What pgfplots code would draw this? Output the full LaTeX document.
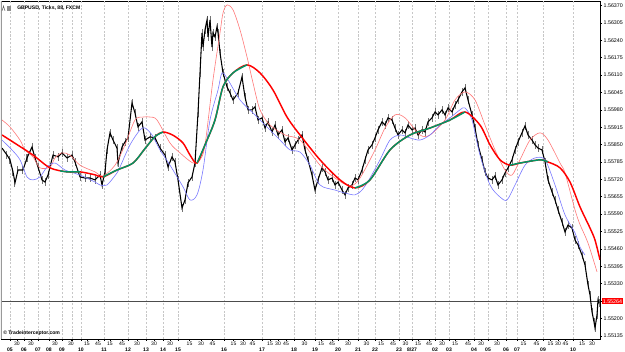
\documentclass[border=0pt]{standalone}
\usepackage{fontspec}
\setmainfont{Liberation Sans}
\usepackage{pgfplots}
\pgfplotsset{compat=1.18}
\definecolor{magreen}{RGB}{0,150,100}
\definecolor{thinred}{RGB}{255,120,120}
\definecolor{thinblue}{RGB}{120,120,255}
\begin{document}
\begin{tikzpicture}
\begin{axis}[
 name=ax, at={(0,0)}, anchor=south west,
 scale only axis, width=449.25pt, height=253.5pt,
 xmin=1, xmax=600, ymin=1.55123, ymax=1.56387,
 axis line style={black, line width=0.5pt},
 font=\fontsize{4}{4.5}\selectfont,
 /pgf/number format/assume math mode=true,
 ytick={1.55135,1.55200,1.55265,1.55330,1.55395,1.55460,1.55525,1.55590,1.55655,1.55720,1.55785,1.55850,1.55915,1.55980,1.56045,1.56110,1.56175,1.56240,1.56305,1.56370},
 yticklabels={1.55135,1.55200,,1.55330,1.55395,1.55460,1.55525,1.55590,1.55655,1.55720,1.55785,1.55850,1.55915,1.55980,1.56045,1.56110,1.56175,1.56240,1.56305,1.56370},
 ytick pos=right, yticklabel pos=right, tick align=outside,
 major tick length=1.5pt, tick style={black, line width=0.4pt},
 yticklabel style={font=\fontsize{4}{4.5}\selectfont, inner sep=1pt},
 xtick pos=bottom,
 xtick={17,31,55,71,87,98,110,122,137,154,170,189.5,201,212.5,233.5,243,252.5,270,278,286,304.5,321,332,348,366.5,381,393,405.5,418,429,442,455,468,481,497,523.5,536.5,550.5,558,565.5,582,592},
 xticklabels={30,30,30,30,15,45,15,45,30,30,30,15,30,45,15,30,45,15,30,45,30,15,45,30,30,15,45,30,15,45,30,15,45,30,30,15,45,15,30,45,15,30},
 xticklabel style={font=\fontsize{3.8}{4}\selectfont, inner sep=0.8pt},
 extra x ticks={10,24,38,49,62,72,81,104,128,146,163,178,224,262,294,315,338,358,375,399,412,435,449,474,488,506,517,543,573},
 extra x tick labels={05,06,07,08,09,,10,11,12,13,14,15,16,17,18,19,20,21,22,23,8/27,02,03,04,05,06,07,09,10},
 extra x tick style={grid=major, major grid style={dash pattern=on 1.6pt off 1.2pt, black!22, line width=0.45pt}, xticklabel style={yshift=-4.2pt, font=\fontsize{3.8}{4}\selectfont\bfseries}},
 extra y ticks={1.55264}, extra y tick labels={1.55264},
 extra y tick style={grid=major, major grid style={solid, black!70, line width=0.5pt}, yticklabel style={fill=red, text=white, inner sep=0.7pt, xshift=-0.3pt}},
 clip=true,
]
% price bars (high-low ranges) and closes
\addplot[draw=none, mark=none, error bars/.cd, y dir=both, y fixed=0.00015, error mark=none, error bar style={draw=black!55, line width=0.75pt}] coordinates {
(2,1.55837) (7,1.55811) (10,1.55793) (13,1.55748) (15,1.55707) (18,1.55755) (23,1.55755) (27,1.55800) (32,1.55841) (35,1.55800) (38,1.55766) (42,1.55718) (45,1.55710) (48,1.55736) (53,1.55811) (58,1.55804) (62,1.55819) (67,1.55800) (72,1.55811) (75,1.55785) (80,1.55729) (85,1.55725) (90,1.55725) (95,1.55718) (100,1.55736) (102,1.55699) (105,1.55748) (107,1.55830) (110,1.55894) (113,1.55867) (117,1.55837) (118,1.55781) (122,1.55841) (125,1.55860) (128,1.55875) (132,1.56006) (135,1.55968) (138,1.55916) (142,1.55935) (145,1.55867) (150,1.55879) (155,1.55875) (160,1.55837) (165,1.55811) (168,1.55766) (172,1.55804) (175,1.55785) (178,1.55718) (182,1.55613) (185,1.55643) (188,1.55707) (192,1.55729) (195,1.55781) (198,1.55968) (200,1.56118) (202,1.56268) (203,1.56215) (205,1.56279) (207,1.56316) (208,1.56253) (210,1.56316) (212,1.56215) (213,1.56268) (215,1.56253) (217,1.56290) (218,1.56268) (220,1.56193) (223,1.56118) (227,1.56066) (230,1.56043) (233,1.56017) (238,1.56043) (242,1.56103) (245,1.56028) (248,1.55980) (252,1.55980) (255,1.55991) (258,1.55942) (262,1.55950) (265,1.55912) (268,1.55935) (272,1.55897) (275,1.55923) (278,1.55886) (282,1.55905) (285,1.55860) (288,1.55875) (292,1.55830) (295,1.55849) (298,1.55867) (302,1.55886) (305,1.55830) (308,1.55793) (312,1.55736) (315,1.55680) (318,1.55718) (322,1.55763) (325,1.55748) (328,1.55718) (332,1.55725) (335,1.55699) (338,1.55710) (342,1.55680) (345,1.55662) (348,1.55688) (352,1.55699) (355,1.55725) (358,1.55718) (362,1.55755) (365,1.55793) (368,1.55830) (372,1.55849) (375,1.55875) (378,1.55905) (382,1.55935) (385,1.55923) (388,1.55950) (392,1.55942) (395,1.55912) (398,1.55886) (402,1.55905) (405,1.55894) (408,1.55923) (412,1.55905) (415,1.55912) (418,1.55886) (422,1.55905) (425,1.55897) (428,1.55935) (432,1.55950) (435,1.55972) (438,1.55961) (442,1.55980) (445,1.55961) (448,1.55987) (452,1.55972) (455,1.55998) (458,1.56017) (462,1.56047) (465,1.56062) (468,1.56017) (472,1.55961) (475,1.55912) (478,1.55849) (482,1.55793) (485,1.55748) (488,1.55725) (492,1.55718) (495,1.55733) (498,1.55699) (502,1.55718) (505,1.55744) (508,1.55763) (512,1.55793) (515,1.55830) (518,1.55860) (522,1.55894) (525,1.55920) (528,1.55886) (532,1.55867) (535,1.55849) (538,1.55837) (542,1.55830) (545,1.55785) (548,1.55718) (552,1.55673) (555,1.55643) (558,1.55606) (562,1.55561) (565,1.55523) (568,1.55549) (572,1.55538) (575,1.55493) (578,1.55475) (582,1.55437) (585,1.55400) (588,1.55325) (590,1.55288) (592,1.55224) (594,1.55187) (595,1.55164) (597,1.55213) (598,1.55269) (599,1.55258)
};
\addplot[black, line width=0.8pt, mark=none] coordinates {
(2,1.55837) (7,1.55811) (10,1.55793) (13,1.55748) (15,1.55707) (18,1.55755) (23,1.55755) (27,1.55800) (32,1.55841) (35,1.55800) (38,1.55766) (42,1.55718) (45,1.55710) (48,1.55736) (53,1.55811) (58,1.55804) (62,1.55819) (67,1.55800) (72,1.55811) (75,1.55785) (80,1.55729) (85,1.55725) (90,1.55725) (95,1.55718) (100,1.55736) (102,1.55699) (105,1.55748) (107,1.55830) (110,1.55894) (113,1.55867) (117,1.55837) (118,1.55781) (122,1.55841) (125,1.55860) (128,1.55875) (132,1.56006) (135,1.55968) (138,1.55916) (142,1.55935) (145,1.55867) (150,1.55879) (155,1.55875) (160,1.55837) (165,1.55811) (168,1.55766) (172,1.55804) (175,1.55785) (178,1.55718) (182,1.55613) (185,1.55643) (188,1.55707) (192,1.55729) (195,1.55781) (198,1.55968) (200,1.56118) (202,1.56268) (203,1.56215) (205,1.56279) (207,1.56316) (208,1.56253) (210,1.56316) (212,1.56215) (213,1.56268) (215,1.56253) (217,1.56290) (218,1.56268) (220,1.56193) (223,1.56118) (227,1.56066) (230,1.56043) (233,1.56017) (238,1.56043) (242,1.56103) (245,1.56028) (248,1.55980) (252,1.55980) (255,1.55991) (258,1.55942) (262,1.55950) (265,1.55912) (268,1.55935) (272,1.55897) (275,1.55923) (278,1.55886) (282,1.55905) (285,1.55860) (288,1.55875) (292,1.55830) (295,1.55849) (298,1.55867) (302,1.55886) (305,1.55830) (308,1.55793) (312,1.55736) (315,1.55680) (318,1.55718) (322,1.55763) (325,1.55748) (328,1.55718) (332,1.55725) (335,1.55699) (338,1.55710) (342,1.55680) (345,1.55662) (348,1.55688) (352,1.55699) (355,1.55725) (358,1.55718) (362,1.55755) (365,1.55793) (368,1.55830) (372,1.55849) (375,1.55875) (378,1.55905) (382,1.55935) (385,1.55923) (388,1.55950) (392,1.55942) (395,1.55912) (398,1.55886) (402,1.55905) (405,1.55894) (408,1.55923) (412,1.55905) (415,1.55912) (418,1.55886) (422,1.55905) (425,1.55897) (428,1.55935) (432,1.55950) (435,1.55972) (438,1.55961) (442,1.55980) (445,1.55961) (448,1.55987) (452,1.55972) (455,1.55998) (458,1.56017) (462,1.56047) (465,1.56062) (468,1.56017) (472,1.55961) (475,1.55912) (478,1.55849) (482,1.55793) (485,1.55748) (488,1.55725) (492,1.55718) (495,1.55733) (498,1.55699) (502,1.55718) (505,1.55744) (508,1.55763) (512,1.55793) (515,1.55830) (518,1.55860) (522,1.55894) (525,1.55920) (528,1.55886) (532,1.55867) (535,1.55849) (538,1.55837) (542,1.55830) (545,1.55785) (548,1.55718) (552,1.55673) (555,1.55643) (558,1.55606) (562,1.55561) (565,1.55523) (568,1.55549) (572,1.55538) (575,1.55493) (578,1.55475) (582,1.55437) (585,1.55400) (588,1.55325) (590,1.55288) (592,1.55224) (594,1.55187) (595,1.55164) (597,1.55213) (598,1.55269) (599,1.55258)
};
% thin red line
\addplot[thinred, line width=0.45pt, smooth, mark=none] coordinates {
(2,1.55942) (10,1.55916) (20,1.55867) (25,1.55830) (33,1.55804) (40,1.55763) (50,1.55766) (55,1.55800) (62,1.55819) (70,1.55811) (80,1.55773) (95,1.55748) (103,1.55733) (115,1.55773) (125,1.55849) (135,1.55942) (143,1.55953) (150,1.55953) (157,1.55942) (170,1.55856) (180,1.55819) (193,1.55781) (200,1.55793) (205,1.55849) (213,1.56092) (220,1.56268) (223,1.56342) (227,1.56372) (233,1.56354) (240,1.56279) (247,1.56178) (253,1.56081) (260,1.55980) (270,1.55923) (285,1.55886) (300,1.55867) (320,1.55773) (335,1.55725) (350,1.55695) (360,1.55725) (375,1.55830) (385,1.55912) (395,1.55961) (405,1.55950) (420,1.55886) (430,1.55886) (445,1.55942) (455,1.56017) (465,1.56047) (475,1.56017) (485,1.55923) (495,1.55830) (505,1.55755) (512,1.55736) (520,1.55793) (530,1.55867) (540,1.55894) (548,1.55867) (560,1.55781) (565,1.55744) (575,1.55606) (580,1.55551) (588,1.55482) (597,1.55374)
};
% thin blue line
\addplot[thinblue, line width=0.45pt, smooth, mark=none] coordinates {
(2,1.55867) (12,1.55830) (20,1.55793) (27,1.55729) (33,1.55718) (40,1.55729) (47,1.55766) (55,1.55781) (65,1.55755) (80,1.55736) (95,1.55710) (100,1.55699) (107,1.55699) (117,1.55744) (120,1.55766) (130,1.55849) (140,1.55905) (145,1.55912) (152,1.55886) (160,1.55830) (170,1.55773) (183,1.55692) (190,1.55643) (197,1.55662) (203,1.55755) (210,1.55942) (218,1.56054) (222,1.56118) (228,1.56092) (240,1.56017) (255,1.55961) (265,1.55923) (280,1.55867) (290,1.55830) (300,1.55822) (310,1.55773) (320,1.55699) (335,1.55680) (345,1.55669) (355,1.55662) (362,1.55680) (370,1.55725) (380,1.55793) (390,1.55867) (400,1.55886) (410,1.55875) (420,1.55867) (430,1.55886) (440,1.55923) (450,1.55950) (460,1.55980) (465,1.55987) (472,1.55942) (480,1.55811) (490,1.55699) (500,1.55654) (507,1.55643) (515,1.55699) (525,1.55773) (535,1.55800) (545,1.55793) (555,1.55699) (565,1.55587) (575,1.55520) (580,1.55467) (585,1.55437)
};
% thick moving average: red (falling) with green (rising) segments
\addplot[red, line width=1.1pt, smooth, mark=none] coordinates {
(2,1.55886) (17,1.55850) (33,1.55811) (50,1.55763) (67,1.55748) (80,1.55748) (95,1.55737) (103,1.55729) (117,1.55755) (133,1.55781) (145,1.55835) (155,1.55880) (163,1.55897) (173,1.55885) (183,1.55856) (190,1.55811) (197,1.55781) (205,1.55849) (215,1.55942) (223,1.56066) (233,1.56118) (247,1.56148) (260,1.56118) (273,1.56054) (287,1.55953) (300,1.55886) (320,1.55793) (340,1.55718) (355,1.55688) (370,1.55718) (390,1.55830) (410,1.55886) (430,1.55912) (450,1.55942) (465,1.55972) (480,1.55923) (490,1.55849) (500,1.55793) (510,1.55773) (520,1.55781) (540,1.55793) (548,1.55785) (560,1.55763) (570,1.55710) (580,1.55617) (590,1.55538) (595,1.55493) (600,1.55419)
};
\addplot[magreen, line width=1.1pt, smooth, mark=none] coordinates {(60,1.55752) (67,1.55748) (80,1.55748)};
\addplot[magreen, line width=1.1pt, smooth, mark=none] coordinates {(103,1.55729) (117,1.55755) (133,1.55781) (145,1.55835) (155,1.55880) (163,1.55897)};
\addplot[magreen, line width=1.1pt, smooth, mark=none] coordinates {(197,1.55781) (205,1.55849) (215,1.55942) (223,1.56066) (233,1.56118) (247,1.56148)};
\addplot[magreen, line width=1.1pt, smooth, mark=none] coordinates {(355,1.55688) (370,1.55718) (390,1.55830) (410,1.55886) (430,1.55912) (450,1.55942) (465,1.55972)};
\addplot[magreen, line width=1.1pt, smooth, mark=none] coordinates {(510,1.55773) (520,1.55781) (540,1.55793) (548,1.55785)};
% frame details
\draw[black!40, line width=1pt] (rel axis cs:0,0) -- (rel axis cs:0,1);
\fill[black!45] (axis cs:7,1.56368) rectangle (axis cs:11,1.56350);
\draw[black!60, line width=0.4pt] (axis cs:2,1.56350) -- (axis cs:3.5,1.56368) -- (axis cs:5,1.56350);
\node[anchor=west, font=\fontsize{3.8}{4}\selectfont\bfseries, inner sep=0pt] at (axis cs:17,1.56359) {GBPUSD, Ticks, 88, FXCM};
\node[anchor=west, font=\fontsize{3.8}{4}\selectfont\bfseries, inner sep=0pt] at (axis cs:3,1.55144) {\copyright{} Tradeinterceptor.com};
\end{axis}
\pgfresetboundingbox
\path ([shift={(-0.75pt,-9.75pt)}]ax.south west) rectangle ([shift={(18.75pt,0.75pt)}]ax.north east);
\end{tikzpicture}
\end{document}
